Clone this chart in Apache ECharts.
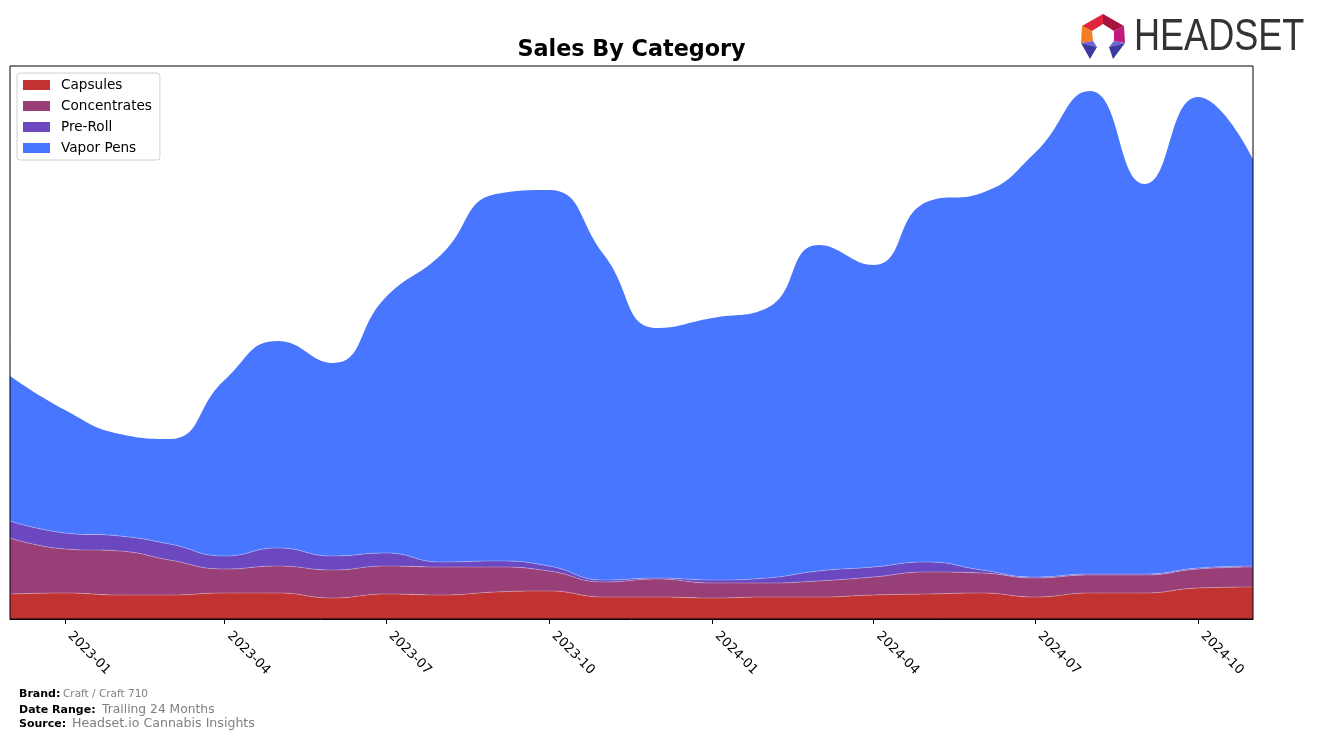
<!DOCTYPE html>
<html>
<head>
<meta charset="utf-8">
<script src="https://cdn.jsdelivr.net/npm/echarts@6/dist/echarts.min.js"></script>
<style>
html,body{margin:0;padding:0;background:#fff;}
#chart{width:1317px;height:741px;}
</style>
</head>
<body>
<div id="chart"></div>
<script>
// ---- Data (arbitrary units) ----
var months = ['2022-12','2023-01','2023-02','2023-03','2023-04','2023-05','2023-06','2023-07','2023-08','2023-09','2023-10','2023-11','2023-12','2024-01','2024-02','2024-03','2024-04','2024-05','2024-06','2024-07','2024-08','2024-09','2024-10','2024-11'];
var capsules     = [25,26,24,24,26,26,21,25,24,27,28,22,22,21,22,22,24,25,26,22,26,26,31,32];
var concentrates = [56,44,44,35,24,27,28,28,28,25,20,15,18,15,14,16,18,22,20,19,18,18,19,20];
var preRoll      = [17,16,15,16,13,18,14,13,5,6,5,2,1,3,5,10,10,10,3,1,1,1,1,1];
var vaporPens    = [145,123,102,105,176,207,193,256,307,367,376,325,250,262,270,326,302,360,377,424,483,390,471,407];
var tickMonths   = ['2023-01','2023-04','2023-07','2023-10','2024-01','2024-04','2024-07','2024-10'];
var seriesNames  = ['Capsules','Concentrates','Pre-Roll','Vapor Pens'];

function toDate(m){ var p = m.split('-'); return new Date(+p[0], +p[1]-1, 1).getTime(); }
function pairs(vals){ return months.map(function(m,i){ return [toDate(m), vals[i]]; }); }

var colors = ['#c13232','#983f77','#6b48c0','#4876ff'];
var dataSets = [capsules, concentrates, preRoll, vaporPens];

var chart = echarts.init(document.getElementById('chart'), null, {renderer:'canvas'});

var series = seriesNames.map(function(name, i){
  return {
    name: name,
    type: 'line',
    stack: 'total',
    smooth: 0.5,
    symbol: 'none',
    xAxisIndex: 0,
    data: pairs(dataSets[i]),
    lineStyle: { width: i < 3 ? 0.8 : 0, color: 'rgba(255,255,255,0.35)' },
    itemStyle: { color: colors[i] },
    areaStyle: { color: colors[i], opacity: 1 },
    emphasis: { disabled: true }
  };
});

var tickVals = tickMonths.map(toDate);
var xMin = toDate(months[0]), xMax = toDate(months[months.length-1]);

var option = {
  animation: false,
  color: colors,
  grid: { left: 10, right: 64, top: 66, bottom: 122, containLabel: false },
  legend: {
    orient: 'vertical',
    left: 17, top: 73,
    padding: [5, 8, 5, 6],
    itemWidth: 27, itemHeight: 10, itemGap: 7,
    icon: 'rect',
    borderColor: '#d0d0d0', borderWidth: 1, borderRadius: 3,
    backgroundColor: 'rgba(255,255,255,0.9)',
    textStyle: { fontFamily: 'DejaVu Sans', fontSize: 13.6, color: '#000', lineHeight: 14, padding: [0,0,0,6] },
    data: seriesNames
  },
  xAxis: [{
    type: 'time',
    min: xMin, max: xMax,
    show: false
  }, {
    type: 'value',
    position: 'bottom',
    min: xMin, max: xMax,
    z: 10,
    axisLine: { show: true, lineStyle: { color: '#000', width: 1 } },
    axisTick: { show: true, customValues: tickVals, length: 5, lineStyle: { color: '#000' } },
    axisLabel: {
      customValues: tickVals,
      rotate: -45,
      margin: 10,
      padding: [0, 0, 0, 7],
      fontFamily: 'DejaVu Sans', fontSize: 13, color: '#000',
      formatter: function(v){ var d = new Date(v); return d.getFullYear() + '-' + String(d.getMonth()+1).padStart(2,'0'); }
    },
    splitLine: { show: false }
  }],
  yAxis: {
    type: 'value', min: 0, max: 553,
    axisLine: { show: false }, axisTick: { show: false }, axisLabel: { show: false }, splitLine: { show: false }
  },
  series: series,
  graphic: [
    { type: 'rect', z: 100, silent: true, shape: { x: 10, y: 66, width: 1243, height: 553 }, style: { fill: 'none', stroke: '#000', lineWidth: 1 } },
    { type: 'text', z: 100, x: 631.5, y: 50, style: { text: 'Sales By Category', fontFamily: 'DejaVu Sans', fontWeight: 'bold', fontSize: 22.3, fill: '#000', align: 'center', verticalAlign: 'middle' } },
    // footer
    { type: 'text', x: 19, y: 694, style: { text: 'Brand:', fontFamily: 'DejaVu Sans', fontWeight: 'bold', fontSize: 11, fill: '#000', verticalAlign: 'middle' } },
    { type: 'text', x: 63, y: 694, style: { text: 'Craft / Craft 710', fontFamily: 'DejaVu Sans', fontSize: 10.5, fill: '#808080', verticalAlign: 'middle' } },
    { type: 'text', x: 19, y: 710, style: { text: 'Date Range:', fontFamily: 'DejaVu Sans', fontWeight: 'bold', fontSize: 11, fill: '#000', verticalAlign: 'middle' } },
    { type: 'text', x: 102, y: 710, style: { text: 'Trailing 24 Months', fontFamily: 'DejaVu Sans', fontSize: 12.3, fill: '#808080', verticalAlign: 'middle' } },
    { type: 'text', x: 19, y: 724, style: { text: 'Source:', fontFamily: 'DejaVu Sans', fontWeight: 'bold', fontSize: 11, fill: '#000', verticalAlign: 'middle' } },
    { type: 'text', x: 72, y: 724, style: { text: 'Headset.io Cannabis Insights', fontFamily: 'DejaVu Sans', fontSize: 12.6, fill: '#808080', verticalAlign: 'middle' } },
    // logo
    { type: 'text', x: 1134, y: 38, scaleX: 0.82, style: { text: 'HEADSET', fontFamily: 'Liberation Sans', fontSize: 44, fill: '#333333', verticalAlign: 'middle' } },
    { type: 'polygon', shape: { points: [[1082,26],[1103,14],[1103,24],[1092,31]] }, style: { fill: '#e0263a' } },
    { type: 'polygon', shape: { points: [[1103,14],[1124,26],[1114,31],[1103,24]] }, style: { fill: '#a8123f' } },
    { type: 'polygon', shape: { points: [[1124,26],[1125,43],[1114,41],[1114,31]] }, style: { fill: '#c01b7c' } },
    { type: 'polygon', shape: { points: [[1082,26],[1092,31],[1093,41],[1081,43]] }, style: { fill: '#f47d22' } },
    { type: 'polygon', shape: { points: [[1081,43],[1093,41],[1097,47]] }, style: { fill: '#6f62d6' } },
    { type: 'polygon', shape: { points: [[1081,43],[1097,47],[1090,59]] }, style: { fill: '#3b3a9e' } },
    { type: 'polygon', shape: { points: [[1125,43],[1114,41],[1109,47]] }, style: { fill: '#6f62d6' } },
    { type: 'polygon', shape: { points: [[1125,43],[1109,47],[1113,59]] }, style: { fill: '#3b3a9e' } }
  ]
};
chart.setOption(option);
</script>
</body>
</html>
